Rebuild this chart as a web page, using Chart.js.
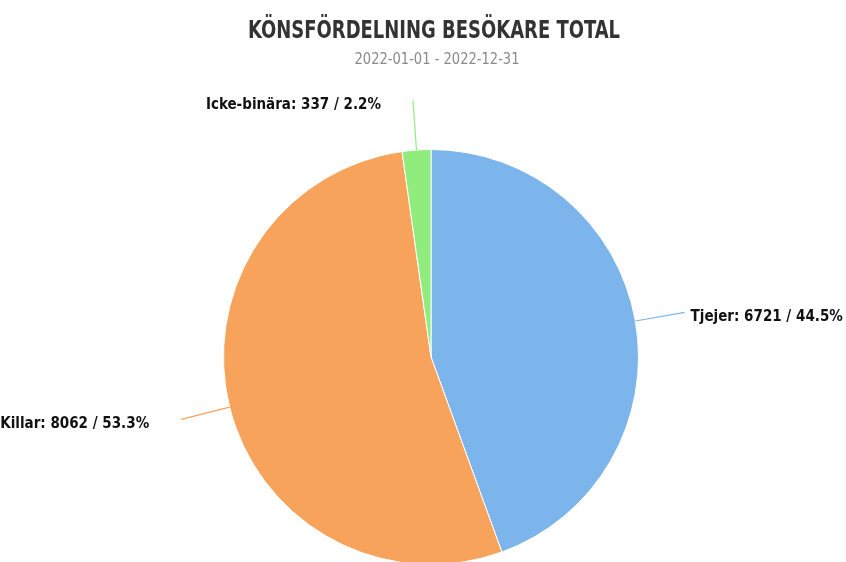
<!DOCTYPE html>
<html>
<head>
<meta charset="utf-8">
<script src="https://cdn.jsdelivr.net/npm/chart.js@4/dist/chart.umd.min.js"></script>
<style>
    html, body { margin: 0; padding: 0; background: #fff; overflow: hidden; }
    #wrap { width: 846px; height: 600px; }
</style>
</head>
<body>
<div id="wrap"><canvas id="genderPie" width="846" height="600"></canvas></div>
<script>
const chartTitle = 'KÖNSFÖRDELNING BESÖKARE TOTAL';
const chartSubtitle = '2022-01-01 - 2022-12-31';
const categories = ['Tjejer', 'Killar', 'Icke-binära'];
const visitors = [6721, 8062, 337];
const sliceColors = ['#7cb5ec', '#f7a35c', '#90ed7d'];

const fontFamily = '"DejaVu Sans Condensed", "Liberation Sans Narrow", sans-serif';

// draws title, subtitle and the slice labels with connector lines
const pieLabels = {
    id: 'pieLabels',
    afterDraw(chart) {
        const ctx = chart.ctx;
        const meta = chart.getDatasetMeta(0);
        const total = visitors.reduce((a, b) => a + b, 0);

        ctx.save();
        ctx.textAlign = 'center';
        ctx.textBaseline = 'alphabetic';
        ctx.fillStyle = '#333333';
        ctx.font = 'bold 25px ' + fontFamily;
        ctx.fillText(chartTitle, 434, 38, 372);
        ctx.fillStyle = '#8a8a8a';
        ctx.font = '16px ' + fontFamily;
        ctx.fillText(chartSubtitle, 437, 64, 165);

        meta.data.forEach((arc, i) => {
            const p = arc.getProps(['x', 'y', 'startAngle', 'endAngle', 'outerRadius'], true);
            const mid = (p.startAngle + p.endAngle) / 2;
            const cos = Math.cos(mid), sin = Math.sin(mid);
            const sx = p.x + p.outerRadius * cos;
            const sy = p.y + p.outerRadius * sin;
            const ex = p.x + (p.outerRadius + 50) * cos;
            const ey = p.y + (p.outerRadius + 50) * sin;

            ctx.strokeStyle = sliceColors[i];
            ctx.lineWidth = 1.2;
            ctx.beginPath();
            ctx.moveTo(sx, sy);
            ctx.quadraticCurveTo(p.x + (p.outerRadius + 40) * cos, p.y + (p.outerRadius + 40) * sin, ex, ey);
            ctx.stroke();

            const pct = (visitors[i] / total * 100).toFixed(1);
            const text = `${categories[i]}: ${visitors[i]} / ${pct}%`;
            ctx.font = 'bold 15px ' + fontFamily;
            ctx.fillStyle = '#111111';
            ctx.textBaseline = 'middle';
            const right = cos >= 0;
            ctx.textAlign = right ? 'left' : 'right';
            ctx.fillText(text, ex + (right ? 6 : -32), ey + 5);
        });
        ctx.restore();
    }
};

const ctx = document.getElementById('genderPie').getContext('2d');
new Chart(ctx, {
    type: 'pie',
    data: {
        labels: categories,
        datasets: [{
            data: visitors,
            backgroundColor: sliceColors,
            borderColor: '#ffffff',
            borderWidth: 1
        }]
    },
    options: {
        responsive: false,
        animation: false,
        layout: { padding: { top: 149, bottom: 35, left: 16, right: 0 } },
        plugins: {
            legend: { display: false },
            tooltip: { enabled: false }
        }
    },
    plugins: [pieLabels]
});
</script>
</body>
</html>
